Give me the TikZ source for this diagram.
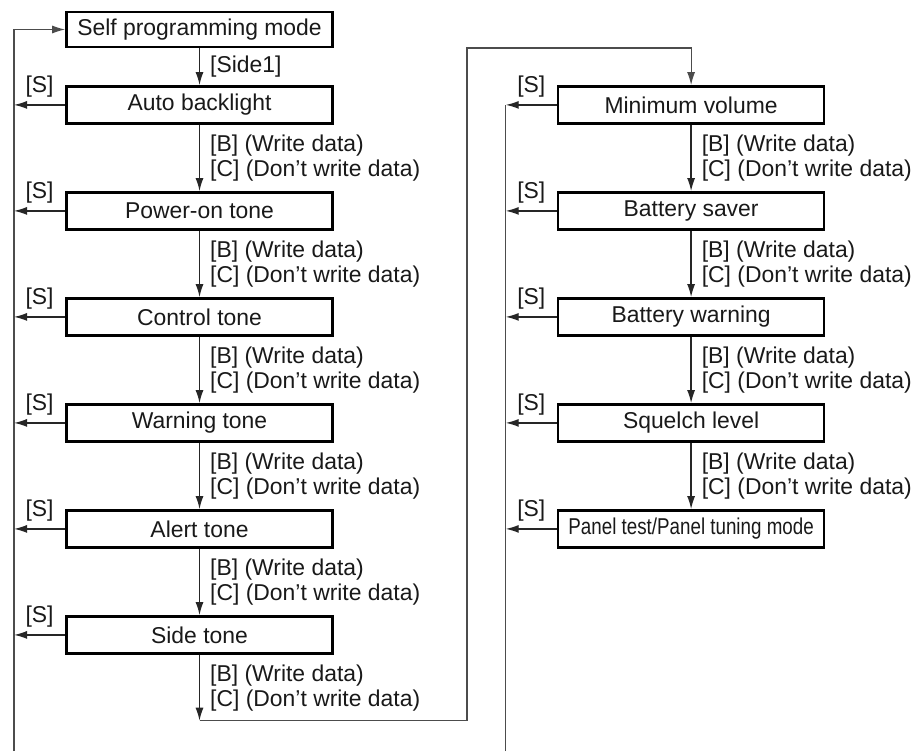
\documentclass[tikz,border=0pt]{standalone}
\usepackage{fontspec}
\usepackage{graphicx}
\setmainfont{Liberation Sans}
\usetikzlibrary{arrows.meta, positioning, calc}

\newcommand{\bcpair}{[B] (Write data)\\{}[C] (Don’t write data)}

\begin{document}
\begin{tikzpicture}[x=1pt, y=1pt, node distance=33.2pt, >={Latex[length=6.5pt, width=4pt]},
    every node/.style={font=\fontsize{11.45}{12.5}\selectfont, text=black!90},
    stepbox/.style={rectangle, draw, line width=1.3pt, minimum width=133pt, minimum height=18.5pt, inner sep=0pt},
    flow/.style={->, line width=0.7pt, black!85},
    bus/.style={line width=0.6pt, black!70},
    keys/.style={right, align=left, inner sep=0pt, xshift=5pt},
    skey/.style={above, midway, inner sep=1.5pt, yshift=2pt}]
    \useasboundingbox (0,0) rectangle (456.5,-375.5);

    % Nodes (left column)
    \node (self) [stepbox, minimum height=17.5pt] at (99.75,-14.75) {Self programming mode};
    \node (auto) [stepbox, below=18.4pt of self] {Auto backlight};
    \node (power) [stepbox, below=of auto] {Power-on tone};
    \node (ctrl) [stepbox, below=of power] {Control tone};
    \node (warning) [stepbox, below=of ctrl] {Warning tone};
    \node (alert) [stepbox, below=of warning] {Alert tone};
    \node (side) [stepbox, below=of alert] {Side tone};

    % Nodes (right column)
    \node (minvol) [stepbox, right=111.5pt of auto] {Minimum volume};
    \node (saver) [stepbox, below=of minvol] {Battery saver};
    \node (battwarn) [stepbox, below=of saver] {Battery warning};
    \node (squelch) [stepbox, below=of battwarn] {Squelch level};
    \node (panel) [stepbox, below=of squelch] {\scalebox{0.82}[1]{Panel test/Panel tuning mode}};

    % Return lines and bends
    \coordinate (lbus) at (7,-375.5);
    \coordinate (rbus) at (252.85,-375.5);
    \coordinate (turn) at ($(side.south)+(0,-33)$);
    \coordinate (jump) at (233.5,-24);

    % Edges (left column)
    \draw[flow] (self) -- node[keys] {[Side1]} (auto);
    \draw[flow] (auto) -- node[keys] {\bcpair} (power);
    \draw[flow] (power) -- node[keys] {\bcpair} (ctrl);
    \draw[flow] (ctrl) -- node[keys] {\bcpair} (warning);
    \draw[flow] (warning) -- node[keys] {\bcpair} (alert);
    \draw[flow] (alert) -- node[keys] {\bcpair} (side);
    \draw[flow] (side) -- node[keys] {\bcpair} (turn);
    \draw[bus, ->] (turn) -| (jump) -| (minvol);

    % Edges (right column)
    \draw[flow] (minvol) -- node[keys] {\bcpair} (saver);
    \draw[flow] (saver) -- node[keys] {\bcpair} (battwarn);
    \draw[flow] (battwarn) -- node[keys] {\bcpair} (squelch);
    \draw[flow] (squelch) -- node[keys] {\bcpair} (panel);

    % [S] exits
    \draw[bus, ->] (lbus) |- (self.west);
    \draw[bus] (rbus) -- (minvol.west -| rbus);
    \foreach \bx in {auto, power, ctrl, warning, alert, side}
        \draw[flow] (\bx.west) -- node[skey] {[S]} (\bx.west -| lbus);
    \foreach \bx in {minvol, saver, battwarn, squelch, panel}
        \draw[flow] (\bx.west) -- node[skey] {[S]} (\bx.west -| rbus);
\end{tikzpicture}
\end{document}
